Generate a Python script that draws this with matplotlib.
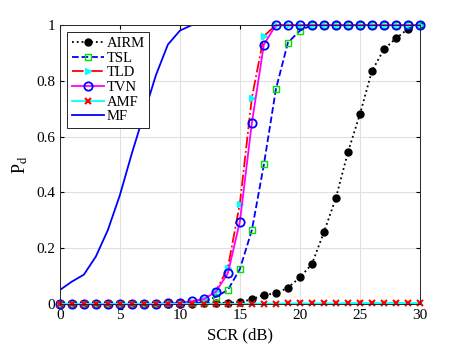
import matplotlib.pyplot as plt
import numpy as np

plt.rcParams['font.family'] = ['Liberation Serif', 'DejaVu Serif']
plt.rcParams['mathtext.fontset'] = 'stix'

# SCR 轴
scr = np.arange(0, 31)

# 各检测器的检测概率
airm = [0, 0, 0, 0, 0, 0, 0, 0, 0, 0, 0, 0.001, 0.002, 0.003, 0.004, 0.006, 0.017, 0.032, 0.038, 0.058,
        0.095, 0.143, 0.257, 0.38, 0.544, 0.68, 0.835, 0.913, 0.952, 0.986, 1.0]
tsl = [0, 0, 0, 0, 0, 0, 0, 0, 0, 0, 0, 0.002, 0.006, 0.026, 0.05, 0.125, 0.265, 0.50, 0.77, 0.937,
       0.98, 1.0, 1.0, 1.0, 1.0, 1.0, 1.0, 1.0, 1.0, 1.0, 1.0]
tld = [0, 0, 0, 0, 0, 0, 0, 0, 0, 0, 0.002, 0.008, 0.018, 0.045, 0.13, 0.36, 0.74, 0.96, 1.0, 1.0,
       1.0, 1.0, 1.0, 1.0, 1.0, 1.0, 1.0, 1.0, 1.0, 1.0, 1.0]
tvn = [0, 0, 0, 0, 0, 0, 0, 0, 0.001, 0.002, 0.004, 0.01, 0.017, 0.044, 0.11, 0.295, 0.65, 0.93, 1.0, 1.0,
       1.0, 1.0, 1.0, 1.0, 1.0, 1.0, 1.0, 1.0, 1.0, 1.0, 1.0]
amf = [0, 0, 0, 0, 0, 0, 0, 0, 0, 0, 0, 0, 0, 0, 0, 0, 0.001, 0.001, 0.001, 0.002,
       0.002, 0.002, 0.002, 0.002, 0.003, 0.003, 0.003, 0.003, 0.004, 0.003, 0.003]
mf = [0.05, 0.08, 0.105, 0.17, 0.265, 0.39, 0.54, 0.68, 0.82, 0.93, 0.98, 1.0, 1.0, 1.0, 1.0, 1.0,
      1.0, 1.0, 1.0, 1.0, 1.0, 1.0, 1.0, 1.0, 1.0, 1.0, 1.0, 1.0, 1.0, 1.0, 1.0]

fig = plt.figure(figsize=(4.64, 3.53), dpi=100)
ax = fig.add_axes([0.129, 0.139, 0.776, 0.79])

ax.plot(scr, airm, ':', color='k', marker='o', markersize=5, markerfacecolor='k', lw=1.3,
        clip_on=False, label='AIRM')
ax.plot(scr, tsl, '--', color='b', marker='s', markersize=5, markerfacecolor='none',
        markeredgecolor='#00e000', lw=1.3, clip_on=False, label='TSL')
ax.plot(scr, tld, '-.', color='r', marker='>', markersize=5, markerfacecolor='cyan',
        markeredgecolor='cyan', lw=1.3, clip_on=False, label='TLD')
ax.plot(scr, tvn, '-', color='magenta', marker='o', markersize=6, markerfacecolor='none',
        markeredgecolor='b', markeredgewidth=1.3, lw=1.3, clip_on=False, label='TVN')
ax.plot(scr, amf, '-', color='cyan', marker='x', markersize=4, markeredgecolor='r',
        markeredgewidth=1.5, lw=1.3, clip_on=False, label='AMF')
ax.plot(scr, mf, '-', color='b', lw=1.3, label='MF')

ax.set_xlim(0, 30)
ax.set_ylim(0, 1)
ax.set_xticks([0, 5, 10, 15, 20, 25, 30])
ax.set_yticks([0, 0.2, 0.4, 0.6, 0.8, 1])
ax.set_yticklabels(['0', '0.2', '0.4', '0.6', '0.8', '1'])
ax.tick_params(direction='in', labelsize=11, top=True, right=True, length=3)
ax.grid(True, color='#e0e0e0', lw=0.8)
ax.set_axisbelow(True)
for s in ax.spines.values():
    s.set_color('#262626')
    s.set_linewidth(0.7)

ax.set_xlabel('SCR (dB)', fontsize=12)
ax.set_ylabel(r'P$_\mathrm{d}$', fontsize=13)

leg = ax.legend(loc='upper left', fontsize=10.5, fancybox=False, framealpha=1,
                edgecolor='#262626', borderpad=0.3, labelspacing=0.1, handlelength=2.2,
                handletextpad=0.2, borderaxespad=0.5)
leg.get_frame().set_linewidth(0.7)
leg.set_zorder(5)

fig.savefig('out.png', dpi=100)
